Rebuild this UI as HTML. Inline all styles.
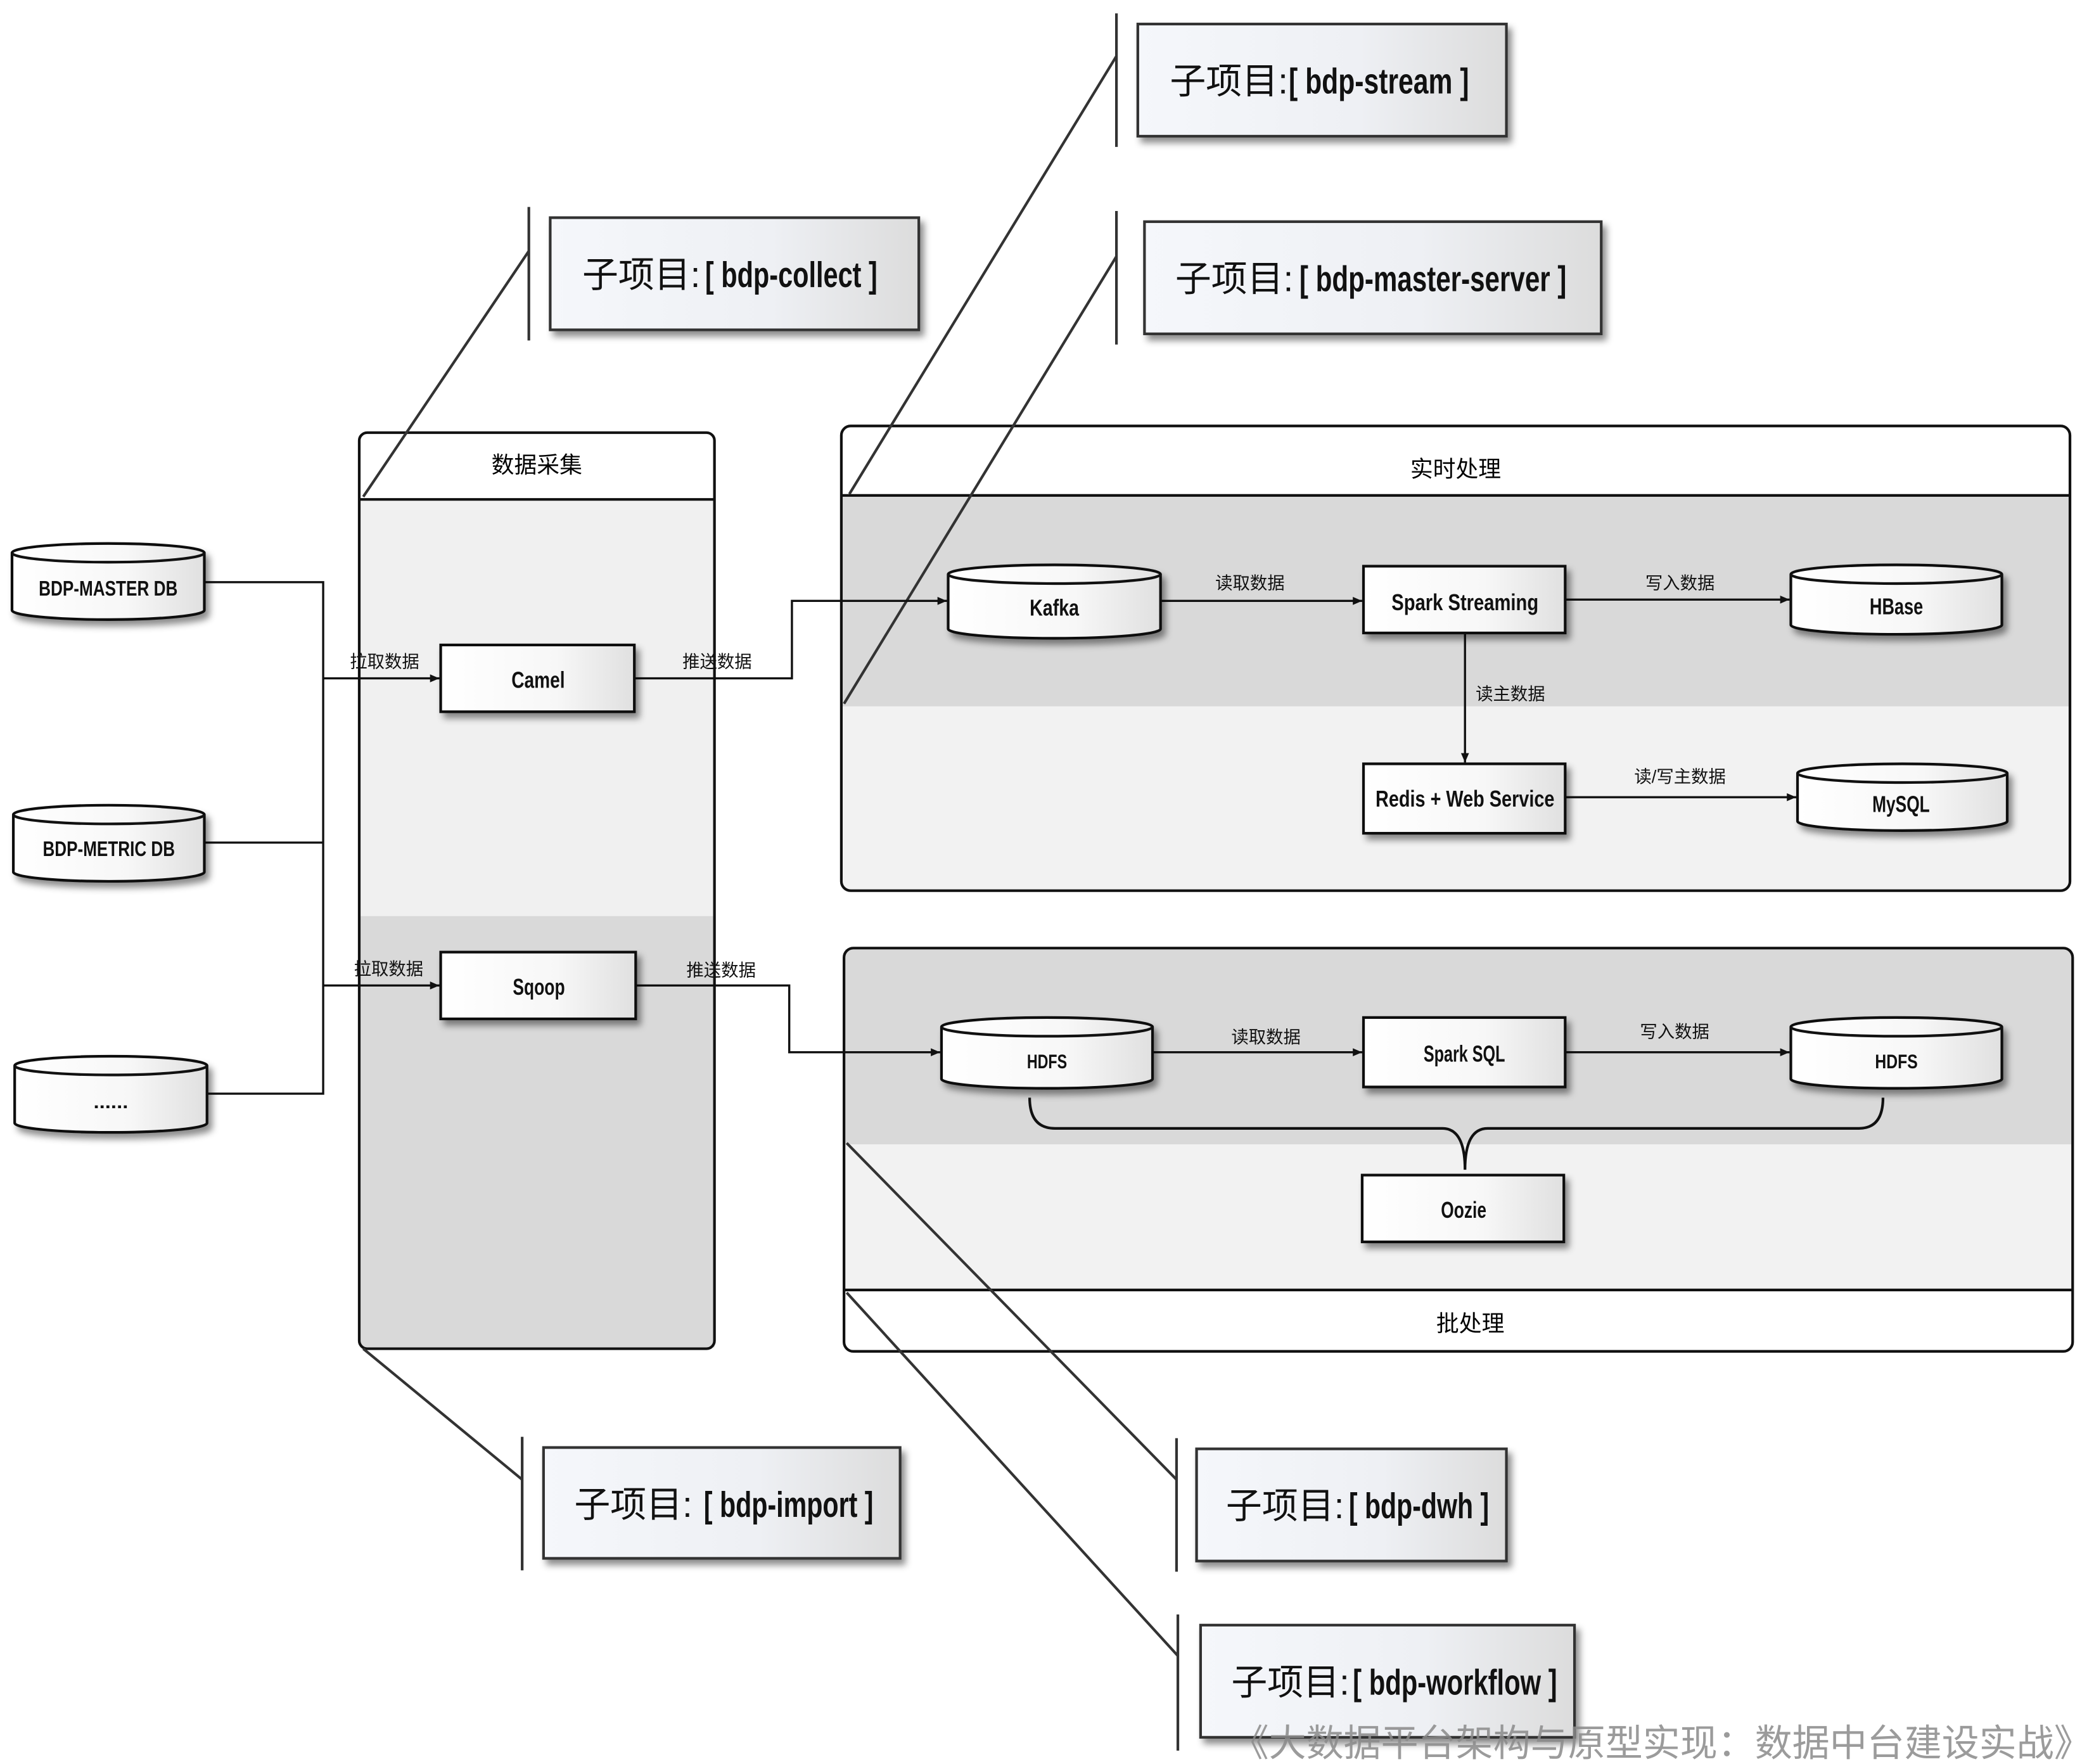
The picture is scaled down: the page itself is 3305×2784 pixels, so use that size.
<!DOCTYPE html>
<html><head><meta charset="utf-8"><style>
html,body{margin:0;padding:0;background:#fff;}
svg{display:block;}
text{font-family:"Liberation Sans","Noto Sans CJK SC",sans-serif;}
.b{font-weight:bold;font-size:17px;}
.l{font-size:13px;text-anchor:middle;}
.h{font-size:17px;text-anchor:middle;}
.c{font-size:27px;}
.cb{font-size:27px;font-weight:bold;}
</style></head><body>
<svg width="3305" height="2784" viewBox="0 0 1568 1321" preserveAspectRatio="none" xmlns="http://www.w3.org/2000/svg">
<defs>
<linearGradient id="g" x1="0" x2="1"><stop offset="0" stop-color="#fff"/><stop offset="0.6" stop-color="#f7f7f7"/><stop offset="1" stop-color="#e0e0e0"/></linearGradient>
<linearGradient id="g2" x1="0" x2="1"><stop offset="0" stop-color="#f5f7fb"/><stop offset="0.6" stop-color="#eef0f4"/><stop offset="1" stop-color="#dcdcdc"/></linearGradient>
<filter id="s" x="-10%" y="-10%" width="130%" height="140%"><feDropShadow dx="3" dy="4" stdDeviation="2.5" flood-color="#000" flood-opacity="0.45"/></filter>
<marker id="a" markerWidth="8" markerHeight="8" refX="7" refY="4" orient="auto" markerUnits="userSpaceOnUse"><path d="M0,1 L7,4 L0,7 z" fill="#111"/></marker>
</defs>
<rect width="1568" height="1321" fill="#fff"/>

<!-- 数据采集 container -->
<rect x="270" y="374" width="265" height="312" fill="#f0f0f0"/>
<rect x="270" y="686" width="265" height="323" fill="#d9d9d9"/>
<rect x="269" y="324" width="266" height="686" rx="6" fill="none" stroke="#111" stroke-width="2"/>
<line x1="269" y1="374" x2="535" y2="374" stroke="#111" stroke-width="2"/>
<text x="402" y="354" class="h">数据采集</text>

<!-- 实时处理 -->
<rect x="631" y="371" width="918" height="158" fill="#d9d9d9"/>
<rect x="631" y="529" width="918" height="137" fill="#f2f2f2"/>
<rect x="630" y="319" width="920" height="348" rx="7" fill="none" stroke="#111" stroke-width="2"/>
<line x1="630" y1="371" x2="1550" y2="371" stroke="#111" stroke-width="2"/>
<text x="1090" y="357" class="h">实时处理</text>

<!-- 批处理 -->
<rect x="633" y="711" width="918" height="146" fill="#d9d9d9"/>
<rect x="633" y="857" width="918" height="109" fill="#f2f2f2"/>
<rect x="632" y="710" width="920" height="302" rx="7" fill="none" stroke="#111" stroke-width="2"/>
<line x1="632" y1="966" x2="1552" y2="966" stroke="#111" stroke-width="2"/>
<text x="1101" y="997" class="h">批处理</text>

<!-- callout lines -->
<g stroke="#333" stroke-width="2" fill="none">
<line x1="396" y1="188" x2="272" y2="372"/>
<line x1="836" y1="42" x2="636" y2="370"/>
<line x1="836" y1="192" x2="632" y2="527"/>
<line x1="272" y1="1010" x2="391" y2="1108"/>
<line x1="634" y1="856" x2="881" y2="1108"/>
<line x1="634" y1="968" x2="882" y2="1240"/>
<line x1="396" y1="155" x2="396" y2="255"/>
<line x1="836" y1="10" x2="836" y2="110"/>
<line x1="836" y1="158" x2="836" y2="258"/>
<line x1="391" y1="1076" x2="391" y2="1176"/>
<line x1="881" y1="1077" x2="881" y2="1177"/>
<line x1="882" y1="1209" x2="882" y2="1311"/>
</g>

<!-- callout boxes -->
<g stroke="#333" stroke-width="2" fill="url(#g2)" filter="url(#s)">
<rect x="852" y="18" width="276" height="84"/>
<rect x="412" y="163" width="276" height="84"/>
<rect x="857" y="166" width="342" height="84"/>
<rect x="407" y="1084" width="267" height="83"/>
<rect x="896" y="1085" width="232" height="84"/>
<rect x="899" y="1217" width="280" height="84"/>
</g>
<g fill="#111">
<text x="876" y="70" class="c">子项目:</text><text x="965" y="70" class="cb" textLength="135" lengthAdjust="spacingAndGlyphs">[ bdp-stream ]</text>
<text x="436" y="215" class="c">子项目:</text><text x="528" y="215" class="cb" textLength="129" lengthAdjust="spacingAndGlyphs">[ bdp-collect ]</text>
<text x="880" y="218" class="c">子项目:</text><text x="973" y="218" class="cb" textLength="200" lengthAdjust="spacingAndGlyphs">[ bdp-master-server ]</text>
<text x="430" y="1136" class="c">子项目:</text><text x="527" y="1136" class="cb" textLength="127" lengthAdjust="spacingAndGlyphs">[ bdp-import ]</text>
<text x="918" y="1137" class="c">子项目:</text><text x="1010" y="1137" class="cb" textLength="105" lengthAdjust="spacingAndGlyphs">[ bdp-dwh ]</text>
<text x="922" y="1269" class="c">子项目:</text><text x="1013" y="1269" class="cb" textLength="153" lengthAdjust="spacingAndGlyphs">[ bdp-workflow ]</text>
</g>

<!-- connectors -->
<g stroke="#111" stroke-width="1.6" fill="none">
<polyline points="153,436 242,436 242,819 155,819"/>
<line x1="153" y1="631" x2="242" y2="631"/>
<line x1="242" y1="508" x2="329" y2="508" marker-end="url(#a)"/>
<line x1="242" y1="738" x2="329" y2="738" marker-end="url(#a)"/>
<polyline points="475,508 593,508 593,450 709,450" marker-end="url(#a)"/>
<polyline points="476,738 591,738 591,788 704,788" marker-end="url(#a)"/>
<line x1="869" y1="450" x2="1020" y2="450" marker-end="url(#a)"/>
<line x1="1172" y1="449" x2="1340" y2="449" marker-end="url(#a)"/>
<line x1="1097" y1="474" x2="1097" y2="571" marker-end="url(#a)"/>
<line x1="1172" y1="597" x2="1345" y2="597" marker-end="url(#a)"/>
<line x1="863" y1="788" x2="1020" y2="788" marker-end="url(#a)"/>
<line x1="1172" y1="788" x2="1340" y2="788" marker-end="url(#a)"/>
<path d="M771,822 Q771,845 790,845 L1080,845 Q1097,845 1097,876 Q1097,845 1114,845 L1392,845 Q1410,845 1410,822" stroke-width="2"/>
</g>

<!-- labels -->
<g class="l" fill="#111">
<text x="288" y="500">拉取数据</text>
<text x="537" y="500">推送数据</text>
<text x="936" y="441">读取数据</text>
<text x="1258" y="441">写入数据</text>
<text x="1131" y="524">读主数据</text>
<text x="1258" y="586">读/写主数据</text>
<text x="291" y="730">拉取数据</text>
<text x="540" y="731">推送数据</text>
<text x="948" y="781">读取数据</text>
<text x="1254" y="777">写入数据</text>
</g>

<!-- boxes -->
<g stroke="#111" stroke-width="2" fill="url(#g)" filter="url(#s)">
<rect x="330" y="483" width="145" height="50"/>
<rect x="330" y="713" width="146" height="50"/>
<rect x="1021" y="424" width="151" height="50"/>
<rect x="1021" y="572" width="151" height="52"/>
<rect x="1021" y="762" width="151" height="52"/>
<rect x="1020" y="880" width="151" height="50"/>
</g>

<!-- cylinders -->
<g stroke="#111" stroke-width="2" fill="url(#g)">
<g filter="url(#s)">
<path d="M9,414 A72,7 0 0 1 153,414 L153,457 A72,7 0 0 1 9,457 Z"/>
<path d="M10,610 A71.5,7 0 0 1 153,610 L153,653 A71.5,7 0 0 1 10,653 Z"/>
<path d="M11,798 A72,7 0 0 1 155,798 L155,841 A72,7 0 0 1 11,841 Z"/>
<path d="M710,430 A79.5,7 0 0 1 869,430 L869,471 A79.5,7 0 0 1 710,471 Z"/>
<path d="M1341,430 A79,7 0 0 1 1499,430 L1499,468 A79,7 0 0 1 1341,468 Z"/>
<path d="M1346,579 A78.5,7 0 0 1 1503,579 L1503,615 A78.5,7 0 0 1 1346,615 Z"/>
<path d="M705,769 A79,7 0 0 1 863,769 L863,808 A79,7 0 0 1 705,808 Z"/>
<path d="M1341,769 A79,7 0 0 1 1499,769 L1499,808 A79,7 0 0 1 1341,808 Z"/>
</g>
<g fill="none">
<path d="M9,414 A72,7 0 0 0 153,414"/>
<path d="M10,610 A71.5,7 0 0 0 153,610"/>
<path d="M11,798 A72,7 0 0 0 155,798"/>
<path d="M710,430 A79.5,7 0 0 0 869,430"/>
<path d="M1341,430 A79,7 0 0 0 1499,430"/>
<path d="M1346,579 A78.5,7 0 0 0 1503,579"/>
<path d="M705,769 A79,7 0 0 0 863,769"/>
<path d="M1341,769 A79,7 0 0 0 1499,769"/>
</g>
</g>

<g class="b" fill="#111">
<text x="383" y="515" textLength="40" lengthAdjust="spacingAndGlyphs">Camel</text>
<text x="384" y="745" textLength="39" lengthAdjust="spacingAndGlyphs">Sqoop</text>
<text x="1042" y="457" textLength="110" lengthAdjust="spacingAndGlyphs">Spark Streaming</text>
<text x="1030" y="604" textLength="134" lengthAdjust="spacingAndGlyphs">Redis  + Web Service</text>
<text x="1066" y="795" textLength="61" lengthAdjust="spacingAndGlyphs">Spark SQL</text>
<text x="1079" y="912" textLength="34" lengthAdjust="spacingAndGlyphs">Oozie</text>
<text x="29" y="446" font-size="16" textLength="104" lengthAdjust="spacingAndGlyphs">BDP-MASTER DB</text>
<text x="32" y="641" font-size="16" textLength="99" lengthAdjust="spacingAndGlyphs">BDP-METRIC DB</text>
<text x="70" y="830" font-size="14" textLength="26" lengthAdjust="spacingAndGlyphs">......</text>
<text x="771" y="461" textLength="37" lengthAdjust="spacingAndGlyphs">Kafka</text>
<text x="1400" y="460" textLength="40" lengthAdjust="spacingAndGlyphs">HBase</text>
<text x="1402" y="608" textLength="43" lengthAdjust="spacingAndGlyphs">MySQL</text>
<text x="769" y="800" font-size="15" textLength="30" lengthAdjust="spacingAndGlyphs">HDFS</text>
<text x="1404" y="800" font-size="15" textLength="32" lengthAdjust="spacingAndGlyphs">HDFS</text>
</g>

<text x="1566" y="1315" text-anchor="end" font-size="28" fill="#8a8a8a" fill-opacity="0.85">《大数据平台架构与原型实现：数据中台建设实战》</text>
</svg>
</body></html>
